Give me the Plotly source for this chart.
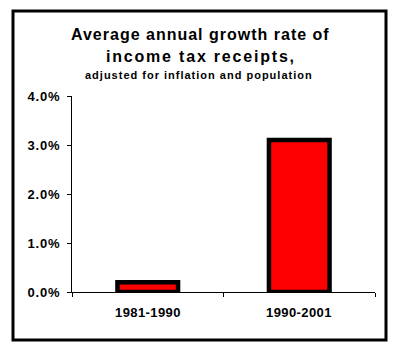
import plotly.graph_objects as go

categories = ["1981-1990", "1990-2001"]
growth_rates = [0.2, 3.1]
tick_values = [0, 1, 2, 3, 4]
tick_labels = ["0.0%", "1.0%", "2.0%", "3.0%", "4.0%"]

W, H = 393, 352
L, R, T, B = 72, 18, 96, 60
pw, ph = W - L - R, H - T - B

def px_x(x):
    return (x - L) / pw

def px_y(y):
    return (H - B - y) / ph

def spaced(s, ls):
    return f'<span style="letter-spacing:{ls}px">{s}</span>'

fig = go.Figure(go.Bar(
    x=categories, y=growth_rates, width=0.4,
    marker=dict(color="#ff0000", line=dict(color="black", width=4.5)),
))

font = "Liberation Sans, Arial, sans-serif"
fig.update_layout(
    width=W, height=H,
    margin=dict(l=L, r=R, t=T, b=B),
    paper_bgcolor="white", plot_bgcolor="white",
    showlegend=False,
    xaxis=dict(showline=True, linecolor="black", linewidth=1,
               ticks="outside", ticklen=4, tickcolor="black",
               tickmode="array", tickvals=[-0.5, 0.5, 1.5], ticktext=["", "", ""],
               range=[-0.5, 1.5], showgrid=False, zeroline=False,
               fixedrange=True),
    yaxis=dict(range=[0, 4], tickvals=tick_values,
               ticktext=[spaced(t, 0.8) for t in tick_labels],
               showline=True, linecolor="black", linewidth=1,
               ticks="outside", ticklen=4, tickcolor="black",
               ticklabelstandoff=4,
               showgrid=False, zeroline=False,
               tickfont=dict(family=font, size=13, color="black", weight="bold")),
    font=dict(family=font, color="black"),
)

for i, c in enumerate(categories):
    fig.add_annotation(x=i, y=px_y(312), xref="x", yref="paper", text=spaced(c, 0.4),
                       showarrow=False, xanchor="center", yanchor="middle",
                       font=dict(family=font, size=13, color="black", weight="bold"))

fig.add_annotation(x=px_x(200), y=px_y(34), xref="paper", yref="paper",
                   text=spaced("Average annual growth rate of", 1.0), showarrow=False,
                   xanchor="center", yanchor="middle",
                   font=dict(family=font, size=16, color="black", weight="bold"))
fig.add_annotation(x=px_x(201), y=px_y(56), xref="paper", yref="paper",
                   text=spaced("income tax receipts,", 1.8), showarrow=False,
                   xanchor="center", yanchor="middle",
                   font=dict(family=font, size=16, color="black", weight="bold"))
fig.add_annotation(x=px_x(199), y=px_y(75), xref="paper", yref="paper",
                   text=spaced("adjusted for inflation and population", 1.0), showarrow=False,
                   xanchor="center", yanchor="middle",
                   font=dict(family=font, size=11, color="black", weight="bold"))

fig.add_shape(type="rect", xref="paper", yref="paper",
              x0=px_x(13), x1=px_x(386), y0=px_y(340), y1=px_y(11),
              line=dict(color="black", width=3), layer="below")

fig.write_html("out.html", config={"displayModeBar": False})
